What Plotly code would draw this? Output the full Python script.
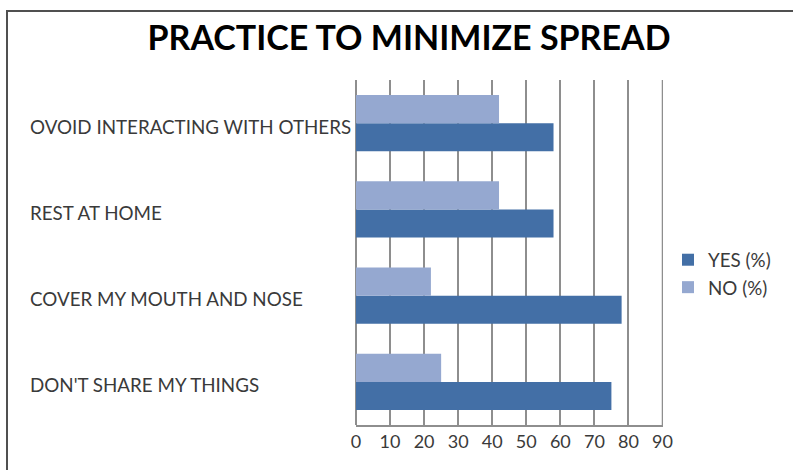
import plotly.graph_objects as go

categories = ["DON'T SHARE MY THINGS", "COVER MY MOUTH AND NOSE", "REST AT HOME", "OVOID INTERACTING WITH OTHERS"]
yes_values = [75, 78, 58, 58]
no_values = [25, 22, 42, 42]
x_ticks = [0, 10, 20, 30, 40, 50, 60, 70, 80, 90]
title_text = "PRACTICE TO MINIMIZE SPREAD"

W, H = 793, 470
L, R, T, B = 356, 130, 80, 45
pw, ph = W - L - R, H - T - B

def px_x(p):
    return (p - L) / pw

def px_y(p):
    return (H - B - p) / ph

FONT = "Lato"
YES_C = "#436FA6"
NO_C = "#95A8D0"
GRID = "#8E8E8E"

fig = go.Figure()
fig.add_trace(go.Bar(y=categories, x=yes_values, orientation="h", name="YES (%)",
                     marker=dict(color=YES_C, line=dict(width=0))))
fig.add_trace(go.Bar(y=categories, x=no_values, orientation="h", name="NO (%)",
                     marker=dict(color=NO_C, line=dict(width=0))))

annotations = []
for c in categories:
    annotations.append(dict(text=c, xref="paper", yref="y", x=px_x(28), y=c, yshift=-3,
                            xanchor="left", yanchor="middle", showarrow=False,
                            font=dict(family=FONT, size=18.8, color="#3A3A3A")))

fig.update_layout(
    width=W, height=H,
    margin=dict(l=L, r=R, t=T, b=B, pad=0),
    paper_bgcolor="white", plot_bgcolor="white",
    barmode="group", bargap=0.35, bargroupgap=0,
    title=dict(text="<b>" + title_text + "</b>", xref="paper", yref="container",
               x=px_x(409), xanchor="center", y=1 - 38 / H, yanchor="middle",
               font=dict(family=FONT, size=34, color="black")),
    xaxis=dict(range=[0, 90.15], tickvals=x_ticks, ticktext=[str(v) for v in x_ticks],
               showgrid=True, gridcolor=GRID, gridwidth=1.5,
               zeroline=True, zerolinecolor=GRID, zerolinewidth=1.5,
               showline=True, linecolor=GRID, linewidth=1.5, ticks="",
               tickfont=dict(family=FONT, size=18, color="#3A3A3A"), fixedrange=True),
    yaxis=dict(showticklabels=False, showgrid=False, zeroline=False, showline=False,
               ticks="", fixedrange=True),
    showlegend=True,
    legend=dict(x=px_x(668), xanchor="left", y=px_y(241), yanchor="top",
                font=dict(family=FONT, size=18.8, color="#3A3A3A"),
                bgcolor="rgba(0,0,0,0)", itemwidth=30),
    annotations=annotations,
    shapes=[
        dict(type="line", xref="x", yref="paper", x0=x_ticks[-1], x1=x_ticks[-1], y0=0, y1=1,
             line=dict(color=GRID, width=1.5), layer="below"),
        dict(type="rect", xref="paper", yref="paper",
             x0=px_x(7), x1=px_x(900), y0=px_y(11), y1=px_y(600),
             line=dict(color="#505050", width=2), fillcolor="rgba(0,0,0,0)", layer="above"),
    ],
)

fig.write_html("out.html", config={"displayModeBar": False},
               post_script="document.body.style.margin='0';document.body.style.overflow='hidden';")
